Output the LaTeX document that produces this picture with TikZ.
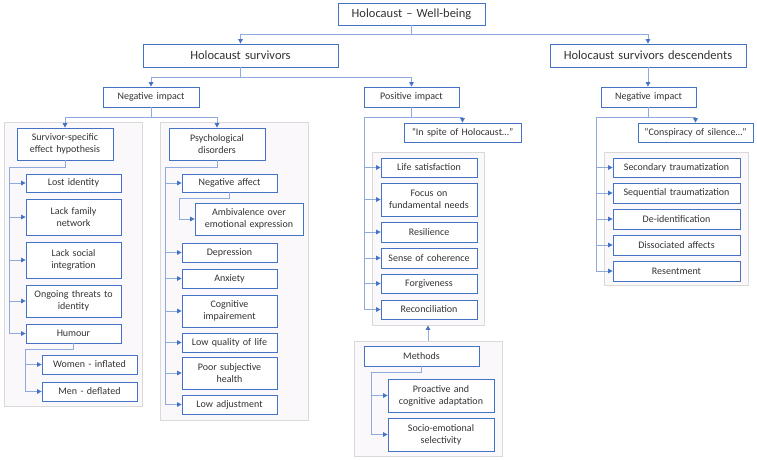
\documentclass[tikz,border=0pt]{standalone}
\usepackage{fontspec}
\setmainfont{Carlito}
\usetikzlibrary{arrows.meta,calc}
\definecolor{boxblue}{HTML}{4472C4}
\definecolor{linkblue}{HTML}{8FAADC}
\definecolor{panelfill}{HTML}{FAF8FA}
\definecolor{panelline}{HTML}{D9D9D9}
\definecolor{txt}{HTML}{333333}
\tikzset{
  box/.style={draw=boxblue, fill=white, line width=0.8pt, inner sep=0pt, align=center, text=txt, font=\fontsize{10}{12}\selectfont},
  bigbox/.style={box, font=\fontsize{12.5}{15}\selectfont},
  panel/.style={draw=panelline, fill=panelfill, line width=0.8pt, inner sep=0pt},
  conn/.style={draw=linkblue, line width=0.9pt, -{Triangle[length=4.5pt,width=4.5pt,color=boxblue]}},
  plain/.style={draw=linkblue, line width=0.9pt},
}
% \bx{name}{x1}{y1}{x2}{y2}{style}{text}
\newcommand{\bx}[7]{\node[#6, minimum width={(#4-#2)*1pt}, minimum height={(#5-#3)*1pt}, text width={(#4-#2-2)*1pt}] (#1) at ({(#2+#4)/2},{(#3+#5)/2}) {#7};}
\newcommand{\pnl}[5]{\node[panel, minimum width={(#4-#2)*1pt}, minimum height={(#5-#3)*1pt}] (#1) at ({(#2+#4)/2},{(#3+#5)/2}) {};}
\begin{document}
\begin{tikzpicture}[x=1pt,y=-1pt]
\useasboundingbox (0,0) rectangle (757,459);
% panels
\pnl{pA}{4}{122}{142}{406}
\pnl{pB}{160}{122}{308}{420}
\pnl{pC}{372}{152}{484}{325}
\pnl{pD}{354}{341}{502}{456}
\pnl{pE}{604}{152}{748}{285}
% top levels
\bx{top}{338}{3}{485}{25}{bigbox}{Holocaust -- Well-being}
\bx{hs}{143}{44}{338}{67}{bigbox}{Holocaust survivors}
\bx{hsd}{550}{44}{746}{67}{bigbox}{Holocaust survivors descendents}
\bx{neg}{103}{87}{199}{107}{box}{Negative impact}
\bx{pos}{364}{87}{459}{107}{box}{Positive impact}
\bx{dneg}{601}{87}{696}{107}{box}{Negative impact}
% column A
\bx{ssh}{17}{128}{113}{160}{box}{Survivor-specific\\effect hypothesis}
\bx{a1}{26}{174}{121}{192}{box}{Lost identity}
\bx{a2}{26}{199}{121}{235}{box}{Lack family\\network}
\bx{a3}{26}{242}{121}{278}{box}{Lack social\\integration}
\bx{a4}{26}{285}{121}{317}{box}{Ongoing threats to\\identity}
\bx{a5}{26}{324}{121}{343}{box}{Humour}
\bx{a6}{42}{355}{137}{374}{box}{Women - inflated}
\bx{a7}{42}{382}{137}{401}{box}{Men - deflated}
% column B
\bx{psy}{169}{128}{265}{160}{box}{Psychological\\disorders}
\bx{b1}{182}{174}{277}{192}{box}{Negative affect}
\bx{b2}{195}{203}{303}{235}{box}{Ambivalence over\\emotional expression}
\bx{b3}{182}{243}{277}{262}{box}{Depression}
\bx{b4}{182}{269}{277}{288}{box}{Anxiety}
\bx{b5}{182}{295}{277}{327}{box}{Cognitive\\impairement}
\bx{b6}{182}{333}{277}{352}{box}{Low quality of life}
\bx{b7}{182}{357}{277}{389}{box}{Poor subjective\\health}
\bx{b8}{182}{395}{277}{414}{box}{Low adjustment}
% column C
\bx{spite}{404}{123}{521}{142}{box}{``In spite of Holocaust\ldots''}
\bx{c1}{381}{158}{477}{177}{box}{Life satisfaction}
\bx{c2}{381}{183}{477}{216}{box}{Focus on\\fundamental needs}
\bx{c3}{381}{222}{477}{242}{box}{Resilience}
\bx{c4}{381}{248}{477}{268}{box}{Sense of coherence}
\bx{c5}{381}{274}{477}{293}{box}{Forgiveness}
\bx{c6}{381}{300}{477}{319}{box}{Reconciliation}
\bx{meth}{364}{346}{479}{366}{box}{Methods}
\bx{m1}{388}{379}{494}{412}{box}{Proactive and\\cognitive adaptation}
\bx{m2}{388}{418}{494}{451}{box}{Socio-emotional\\selectivity}
% column D
\bx{consp}{638}{123}{753}{142}{box}{``Conspiracy of silence\ldots''}
\bx{d1}{613}{158}{740}{177}{box}{Secondary traumatization}
\bx{d2}{613}{183}{740}{203}{box}{Sequential traumatization}
\bx{d3}{613}{209}{740}{229}{box}{De-identification}
\bx{d4}{613}{235}{740}{255}{box}{Dissociated affects}
\bx{d5}{613}{261}{740}{281}{box}{Resentment}
% trunk coordinates
\coordinate (tA) at (9,167);
\coordinate (tA2) at (25,349);
\coordinate (tB) at (165,167);
\coordinate (tB2) at (179,198);
\coordinate (tC) at (364,117);
\coordinate (tM) at (371,372);
\coordinate (tD) at (596,117);
% connectors top
\draw[conn] (top.south) -- ++(0,9) -| (hs.north);
\draw[conn] (top.south) -- ++(0,9) -| (hsd.north);
\draw[conn] (hs.south) -- ++(0,10) -| (neg.north);
\draw[conn] (hs.south) -- ++(0,10) -| (pos.north);
\draw[conn] (hsd.south) -- (hsd.south |- dneg.north);
\draw[conn] (neg.south) -- ++(0,10) -| (ssh.north);
\draw[conn] (neg.south) -- ++(0,10) -| (psy.north);
% column A
\draw[plain] (ssh.south) |- (tA) -- (tA |- a5.west);
\foreach \n in {a1,a2,a3,a4,a5} \draw[conn] (tA |- \n.west) -- (\n.west);
\draw[plain] (a5.south) |- (tA2) -- (tA2 |- a7.west);
\foreach \n in {a6,a7} \draw[conn] (tA2 |- \n.west) -- (\n.west);
% column B
\draw[plain] (psy.south) |- (tB) -- (tB |- b8.west);
\foreach \n in {b1,b3,b4,b5,b6,b7,b8} \draw[conn] (tB |- \n.west) -- (\n.west);
\draw[plain] (b1.south) |- (tB2) -- (tB2 |- b2.west);
\draw[conn] (tB2 |- b2.west) -- (b2.west);
% column C
\draw[plain] (pos.south) |- (tC) -- (tC |- c6.west);
\draw[conn] (pos.south) |- ($(spite.north)+(0,-5)$) -- (spite.north);
\foreach \n in {c1,c2,c3,c4,c5,c6} \draw[conn] (tC |- \n.west) -- (\n.west);
\draw[conn] (pD.north) -- (pD.north |- pC.south);
\draw[plain] (meth.south) |- (tM) -- (tM |- m2.west);
\foreach \n in {m1,m2} \draw[conn] (tM |- \n.west) -- (\n.west);
% column D
\draw[plain] (dneg.south) |- (tD) -- (tD |- d5.west);
\draw[conn] (dneg.south) |- ($(consp.north)+(0,-5)$) -- (consp.north);
\foreach \n in {d1,d2,d3,d4,d5} \draw[conn] (tD |- \n.west) -- (\n.west);
\end{tikzpicture}
\end{document}
